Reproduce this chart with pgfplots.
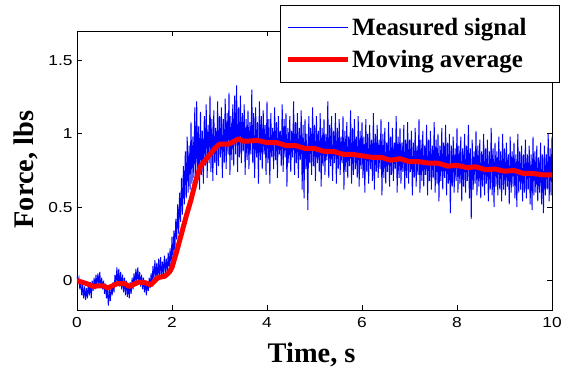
\documentclass[border=0pt]{standalone}
\usepackage{fontspec}
\setmainfont{Liberation Serif}
\newfontfamily\tickfont[FakeStretch=1.2]{Liberation Sans}
\usepackage{pgfplots}
\pgfplotsset{compat=1.18}
\usepackage{pgfplotstable}

\pgfplotstableread{
t y
0.00 0.00
0.10 -0.01
0.20 -0.02
0.35 -0.04
0.45 -0.035
0.55 -0.035
0.65 -0.05
0.75 -0.035
0.85 -0.02
1.00 -0.02
1.10 -0.04
1.20 -0.025
1.30 -0.01
1.45 -0.015
1.55 -0.03
1.70 0.02
1.85 0.03
1.95 0.06
2.00 0.09
2.10 0.20
2.20 0.32
2.30 0.44
2.40 0.55
2.50 0.68
2.60 0.78
2.70 0.82
2.80 0.86
2.90 0.90
3.00 0.93
3.20 0.93
3.40 0.965
3.50 0.95
3.60 0.95
3.80 0.955
4.00 0.94
4.20 0.94
4.40 0.92
4.60 0.92
4.80 0.90
5.00 0.90
5.20 0.88
5.40 0.88
5.60 0.86
5.80 0.86
6.00 0.85
6.20 0.84
6.40 0.84
6.60 0.82
6.80 0.83
7.00 0.81
7.20 0.81
7.40 0.80
7.60 0.80
7.80 0.78
8.00 0.785
8.20 0.77
8.40 0.775
8.60 0.755
8.80 0.76
9.00 0.745
9.20 0.75
9.40 0.73
9.60 0.73
9.80 0.72
10.00 0.72
}\average

\pgfplotsset{
  legend image code/.code={\draw[#1] (0bp,0bp) -- (60bp,0bp);}
}

\begin{document}
\begin{tikzpicture}
\path[use as bounding box] (-77bp,-60bp) rectangle (486bp,310bp);
\begin{axis}[
  at={(0,0)}, anchor=south west,
  scale only axis,
  width=475bp, height=279bp,
  xmin=0, xmax=10, ymin=-0.2, ymax=1.7,
  xtick={0,2,4,6,8,10},
  ytick={0,0.5,1,1.5},
  tick align=inside,
  xtick pos=both, ytick pos=both,
  major tick length=5bp,
  axis line style={line width=0.8bp},
  every tick/.style={black, line width=0.8bp},
  /pgf/number format/assume math mode=true,
  ticklabel style={font=\tickfont\fontsize{14.5}{14.5}\selectfont},
  xticklabel style={yshift=-4bp},
  yticklabel style={xshift=-1bp},
  xlabel={\bfseries Time, s},
  ylabel={\bfseries Force, lbs},
  label style={font=\fontsize{28.5}{30}\selectfont},
  xlabel style={at={(axis description cs:0.494,-0.1864)}, anchor=base},
  ylabel style={at={(axis description cs:-0.0926,0.503)}, anchor=base},
  legend style={
    at={(axis description cs:1.017,1.093)}, anchor=north east,
    font=\bfseries\fontsize{25}{29}\selectfont,
    draw=black, line width=0.8bp,
    inner xsep=5bp, inner ysep=11bp,
    row sep=9bp,
    cells={anchor=west},
  },
]
\addplot[color=blue, line width=0.95bp] coordinates {
(0.00,0.03) (0.02,-0.01) (0.04,0.02) (0.06,-0.06) (0.08,0.00) (0.10,-0.10) (0.12,-0.03) (0.14,-0.12) (0.16,-0.04) (0.18,-0.13)
(0.20,-0.05) (0.22,-0.12) (0.24,-0.02) (0.26,-0.10) (0.28,-0.01) (0.30,-0.12) (0.32,0.00) (0.34,-0.07) (0.36,0.02) (0.38,-0.06)
(0.40,0.04) (0.42,-0.04) (0.44,0.05) (0.46,-0.03) (0.48,0.06) (0.50,-0.05) (0.52,0.02) (0.54,-0.06) (0.56,0.00) (0.58,-0.09)
(0.60,-0.02) (0.62,-0.12) (0.64,-0.05) (0.66,-0.17) (0.68,-0.06) (0.70,-0.14) (0.72,-0.04) (0.74,-0.10) (0.76,-0.01) (0.78,-0.08)
(0.80,0.04) (0.82,-0.04) (0.84,0.09) (0.86,-0.02) (0.88,0.08) (0.90,-0.04) (0.92,0.06) (0.94,-0.06) (0.96,0.04) (0.98,-0.08)
(1.00,0.02) (1.02,-0.10) (1.04,0.00) (1.06,-0.11) (1.08,-0.02) (1.10,-0.12) (1.12,-0.01) (1.14,-0.09) (1.16,0.02) (1.18,-0.06)
(1.20,0.05) (1.22,-0.03) (1.24,0.08) (1.26,-0.01) (1.28,0.09) (1.30,-0.02) (1.32,0.06) (1.34,-0.04) (1.36,0.04) (1.38,-0.06)
(1.40,0.02) (1.42,-0.08) (1.44,0.00) (1.46,-0.10) (1.48,-0.01) (1.50,-0.07) (1.52,0.02) (1.54,-0.05) (1.56,0.05) (1.58,-0.02)
(1.60,0.10) (1.62,0.00) (1.64,0.14) (1.66,0.02) (1.68,0.12) (1.70,0.00) (1.72,0.15) (1.74,0.03) (1.76,0.16) (1.78,0.02)
(1.80,0.13) (1.82,0.04) (1.84,0.17) (1.86,0.05) (1.88,0.15) (1.90,0.06) (1.92,0.19) (1.94,0.08) (1.96,0.22) (1.98,0.10)
(2.00,0.30) (2.02,0.14) (2.04,0.34) (2.06,0.20) (2.08,0.42) (2.10,0.28) (2.12,0.52) (2.14,0.32) (2.16,0.60) (2.18,0.40)
(2.20,0.70) (2.22,0.45) (2.24,0.78) (2.26,0.52) (2.28,0.88) (2.30,0.56) (2.32,0.98) (2.34,0.60) (2.36,0.92) (2.38,0.62)
(2.40,1.08) (2.42,0.66) (2.44,0.98) (2.46,0.70) (2.48,1.18) (2.50,0.64) (2.52,1.22) (2.54,0.74) (2.56,1.05) (2.58,0.62)
(2.60,1.15) (2.62,0.72) (2.64,1.02) (2.66,0.66) (2.68,1.12) (2.70,0.78) (2.72,1.20) (2.74,0.70) (2.76,1.06) (2.78,0.80)
(2.80,1.26) (2.82,0.74) (2.84,1.10) (2.86,0.68) (2.88,1.16) (2.90,0.80) (2.92,1.04) (2.94,0.72) (2.96,1.22) (2.98,0.78)
(3.00,1.12) (3.02,0.84) (3.04,1.18) (3.06,0.70) (3.08,1.10) (3.10,0.80) (3.12,1.24) (3.14,0.76) (3.16,1.14) (3.18,0.86)
(3.20,1.28) (3.22,0.72) (3.24,1.12) (3.26,0.82) (3.28,1.20) (3.30,0.78) (3.32,1.26) (3.34,0.86) (3.36,1.33) (3.38,0.74)
(3.40,1.18) (3.42,0.84) (3.44,1.26) (3.46,0.80) (3.48,1.14) (3.50,0.88) (3.52,1.20) (3.54,0.72) (3.56,1.10) (3.58,0.82)
(3.60,1.16) (3.62,0.76) (3.64,1.08) (3.66,0.86) (3.68,1.30) (3.70,0.80) (3.72,1.14) (3.74,0.70) (3.76,1.18) (3.78,0.84)
(3.80,1.08) (3.82,0.66) (3.84,1.22) (3.86,0.82) (3.88,1.12) (3.90,0.76) (3.92,1.16) (3.94,0.86) (3.96,1.06) (3.98,0.72)
(4.00,1.22) (4.02,0.80) (4.04,1.10) (4.06,0.66) (4.08,1.14) (4.10,0.84) (4.12,1.04) (4.14,0.76) (4.16,1.18) (4.18,0.82)
(4.20,1.08) (4.22,0.70) (4.24,1.12) (4.26,0.86) (4.28,1.02) (4.30,0.78) (4.32,1.20) (4.34,0.74) (4.36,1.10) (4.38,0.84)
(4.40,1.14) (4.42,0.64) (4.44,1.04) (4.46,0.80) (4.48,1.12) (4.50,0.74) (4.52,1.02) (4.54,0.84) (4.56,1.22) (4.58,0.72)
(4.60,1.08) (4.62,0.80) (4.64,1.14) (4.66,0.70) (4.68,1.04) (4.70,0.82) (4.72,1.16) (4.74,0.62) (4.76,1.06) (4.78,0.56)
(4.80,1.10) (4.82,0.76) (4.84,1.00) (4.86,0.48) (4.88,1.12) (4.90,0.80) (4.92,1.04) (4.94,0.72) (4.96,1.18) (4.98,0.78)
(5.00,1.06) (5.02,0.68) (5.04,1.12) (5.06,0.80) (5.08,1.02) (5.10,0.74) (5.12,1.14) (5.14,0.64) (5.16,1.04) (5.18,0.78)
(5.20,1.10) (5.22,0.72) (5.24,1.00) (5.26,0.82) (5.28,1.22) (5.30,0.70) (5.32,1.06) (5.34,0.78) (5.36,1.12) (5.38,0.68)
(5.40,1.02) (5.42,0.80) (5.44,1.14) (5.46,0.66) (5.48,1.04) (5.50,0.76) (5.52,1.10) (5.54,0.72) (5.56,0.98) (5.58,0.80)
(5.60,1.12) (5.62,0.62) (5.64,1.02) (5.66,0.74) (5.68,1.08) (5.70,0.70) (5.72,0.98) (5.74,0.78) (5.76,1.16) (5.78,0.66)
(5.80,1.04) (5.82,0.72) (5.84,1.10) (5.86,0.76) (5.88,0.98) (5.90,0.70) (5.92,1.12) (5.94,0.64) (5.96,1.02) (5.98,0.76)
(6.00,1.08) (6.02,0.70) (6.04,0.98) (6.06,0.60) (6.08,1.10) (6.10,0.74) (6.12,1.00) (6.14,0.66) (6.16,1.06) (6.18,0.76)
(6.20,0.96) (6.22,0.68) (6.24,1.14) (6.26,0.62) (6.28,1.00) (6.30,0.74) (6.32,1.06) (6.34,0.70) (6.36,0.96) (6.38,0.76)
(6.40,1.10) (6.42,0.58) (6.44,1.00) (6.46,0.70) (6.48,1.04) (6.50,0.66) (6.52,0.94) (6.54,0.74) (6.56,1.08) (6.58,0.64)
(6.60,0.98) (6.62,0.72) (6.64,1.04) (6.66,0.68) (6.68,0.94) (6.70,0.76) (6.72,1.12) (6.74,0.60) (6.76,0.98) (6.78,0.70)
(6.80,1.04) (6.82,0.66) (6.84,0.94) (6.86,0.74) (6.88,1.06) (6.90,0.62) (6.92,0.96) (6.94,0.70) (6.96,1.08) (6.98,0.66)
(7.00,0.96) (7.02,0.74) (7.04,1.02) (7.06,0.58) (7.08,0.94) (7.10,0.70) (7.12,1.04) (7.14,0.64) (7.16,0.92) (7.18,0.72)
(7.20,1.10) (7.22,0.60) (7.24,0.96) (7.26,0.68) (7.28,1.02) (7.30,0.64) (7.32,0.92) (7.34,0.72) (7.36,1.06) (7.38,0.58)
(7.40,0.96) (7.42,0.68) (7.44,1.02) (7.46,0.62) (7.48,0.92) (7.50,0.70) (7.52,1.08) (7.54,0.60) (7.56,0.96) (7.58,0.66)
(7.60,1.00) (7.62,0.54) (7.64,0.92) (7.66,0.68) (7.68,1.04) (7.70,0.62) (7.72,0.94) (7.74,0.70) (7.76,1.06) (7.78,0.58)
(7.80,0.94) (7.82,0.66) (7.84,1.00) (7.86,0.46) (7.88,0.92) (7.90,0.64) (7.92,0.98) (7.94,0.60) (7.96,0.90) (7.98,0.68)
(8.00,1.04) (8.02,0.60) (8.04,0.92) (8.06,0.66) (8.08,0.98) (8.10,0.54) (8.12,0.90) (8.14,0.64) (8.16,1.00) (8.18,0.60)
(8.20,0.92) (8.22,0.68) (8.24,1.06) (8.26,0.56) (8.28,0.90) (8.30,0.42) (8.32,0.96) (8.34,0.62) (8.36,0.88) (8.38,0.66)
(8.40,1.02) (8.42,0.58) (8.44,0.92) (8.46,0.64) (8.48,0.96) (8.50,0.56) (8.52,0.88) (8.54,0.64) (8.56,1.00) (8.58,0.58)
(8.60,0.90) (8.62,0.66) (8.64,0.96) (8.66,0.54) (8.68,0.88) (8.70,0.62) (8.72,1.04) (8.74,0.58) (8.76,0.90) (8.78,0.50)
(8.80,0.94) (8.82,0.64) (8.84,0.88) (8.86,0.58) (8.88,0.98) (8.90,0.62) (8.92,0.88) (8.94,0.54) (8.96,1.00) (8.98,0.62)
(9.00,0.90) (9.02,0.58) (9.04,0.94) (9.06,0.64) (9.08,0.86) (9.10,0.52) (9.12,0.98) (9.14,0.60) (9.16,0.88) (9.18,0.64)
(9.20,0.94) (9.22,0.56) (9.24,0.86) (9.26,0.50) (9.28,1.00) (9.30,0.60) (9.32,0.88) (9.34,0.62) (9.36,0.92) (9.38,0.54)
(9.40,0.86) (9.42,0.60) (9.44,0.96) (9.46,0.56) (9.48,0.86) (9.50,0.62) (9.52,0.92) (9.54,0.52) (9.56,0.86) (9.58,0.48)
(9.60,0.98) (9.62,0.58) (9.64,0.88) (9.66,0.60) (9.68,0.92) (9.70,0.54) (9.72,0.84) (9.74,0.60) (9.76,0.94) (9.78,0.52)
(9.80,0.86) (9.82,0.46) (9.84,0.92) (9.86,0.58) (9.88,0.86) (9.90,0.62) (9.92,1.00) (9.94,0.54) (9.96,0.90) (9.98,0.58)
(10.00,0.98)
};
\addlegendentry{Measured signal\hspace*{26bp}}
\addplot[color=red, line width=5bp, line join=round] table[x=t,y=y] {\average};
\addlegendentry{Moving average}
\end{axis}
\end{tikzpicture}
\end{document}
